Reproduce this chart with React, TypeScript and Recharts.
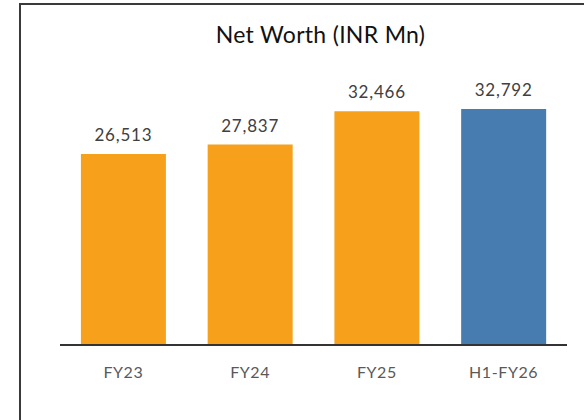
import React from "react";
import { BarChart, Bar, XAxis, YAxis, LabelList, Cell } from "recharts";

const categories = ["FY23", "FY24", "FY25", "H1-FY26"];
const netWorth = [26513, 27837, 32466, 32792];
const barColors = ["#F6A01B", "#F6A01B", "#F6A01B", "#467CB0"];

const data = categories.map((c, i) => ({ name: c, value: netWorth[i] }));

const FONT = "Lato, 'Open Sans', sans-serif";

export default function App() {
  return (
    <div
      style={{
        position: "absolute",
        left: 0,
        top: 0,
        width: 584,
        height: 420,
        overflow: "hidden",
        background: "#fff",
      }}
    >
      <div
        style={{
          position: "absolute",
          left: 19,
          top: 3,
          width: 700,
          height: 600,
          border: "2px solid #3a3a3a",
          boxSizing: "border-box",
        }}
      />
      <div
        style={{
          position: "absolute",
          left: 0,
          top: 20,
          width: 641,
          textAlign: "center",
          fontFamily: FONT,
          fontSize: 23,
          letterSpacing: 0.3,
          color: "#111",
        }}
      >
        Net Worth (INR Mn)
      </div>
      <div style={{ position: "absolute", left: 0, top: 0 }}>
        <BarChart
          width={584}
          height={420}
          data={data}
          margin={{ top: 57, right: 17, bottom: 0, left: 60 }}
          barCategoryGap="16.5%"
        >
          <YAxis hide domain={[0, 40000]} />
          <XAxis
            dataKey="name"
            height={75}
            tickLine={false}
            tickSize={0}
            tickMargin={22}
            axisLine={{ stroke: "#333", strokeWidth: 2 }}
            tick={{ fill: "#595959", fontSize: 16, fontFamily: FONT, letterSpacing: 0.6 }}
          />
          <Bar dataKey="value" isAnimationActive={false}>
            {data.map((d, i) => (
              <Cell key={d.name} fill={barColors[i]} />
            ))}
            <LabelList
              dataKey="value"
              position="top"
              offset={13}
              formatter={(v: number) => v.toLocaleString("en-US")}
              style={{ fill: "#404040", fontSize: 17, fontFamily: FONT, letterSpacing: 0.8 }}
            />
          </Bar>
        </BarChart>
      </div>
    </div>
  );
}
